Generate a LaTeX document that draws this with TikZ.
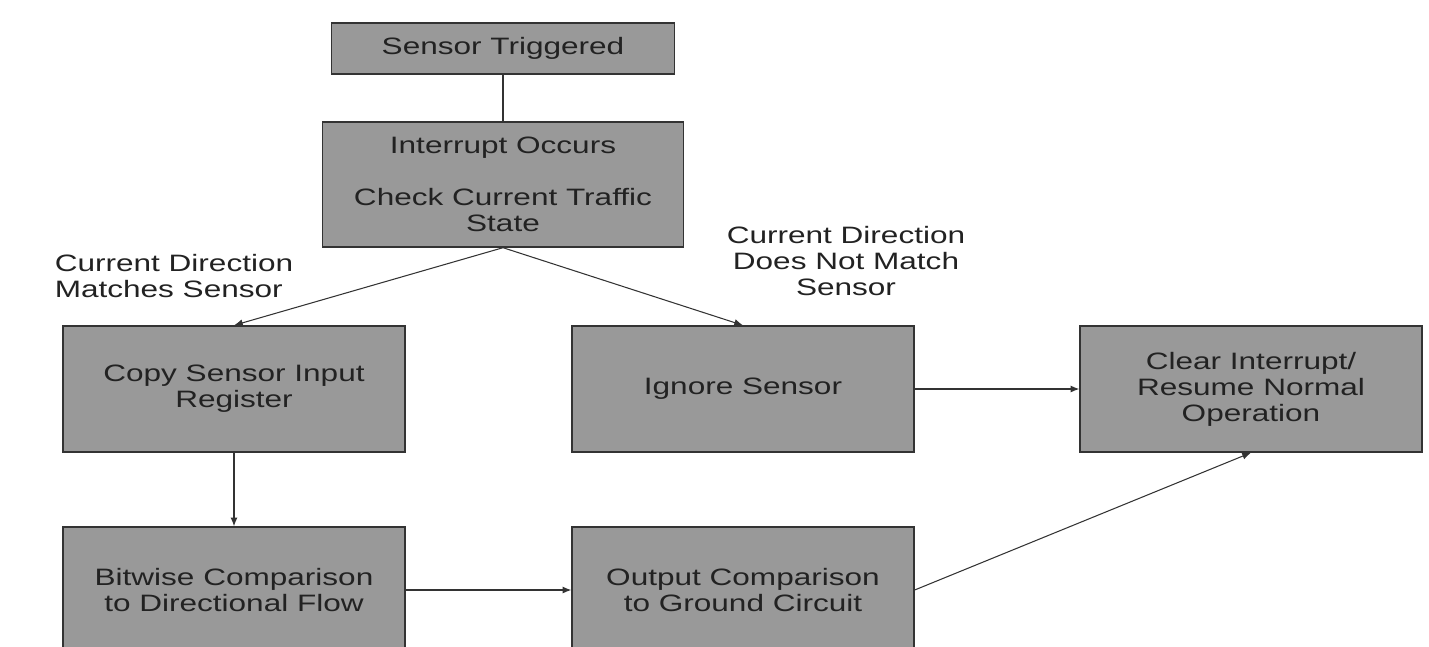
\documentclass[tikz,border=0pt]{standalone}
\usepackage{fontspec}
\setmainfont{Liberation Sans}[FakeStretch=1.33]
\usetikzlibrary{arrows.meta}

\definecolor{boxgray}{HTML}{999999}
\definecolor{edgegray}{HTML}{333333}
\definecolor{textgray}{HTML}{222222}

\begin{document}
\begin{tikzpicture}[
    x=0.02cm, y=-0.02cm,
    font=\fontsize{13.5}{14.8}\selectfont,
    text=textgray,
    % Stile
    stepbox/.style={draw=edgegray, line width=0.8pt, fill=boxgray, align=center, inner sep=2pt},
    rowbox/.style={stepbox, minimum width=6.84cm, minimum height=2.52cm},
    lbl/.style={align=center},
    arr/.style={draw=edgegray, line width=0.6pt, -{Latex[length=5pt, width=4pt]}}
]
    \clip (0,0) rectangle (1429,646);

    % ==========================================
    % START
    % ==========================================
    \node[stepbox, minimum width=6.86cm, minimum height=1.02cm] (trig) at (503,48.5) {Sensor Triggered};
    \node[stepbox, minimum width=7.22cm, minimum height=2.5cm] (intr) at (503,184.5)
        {Interrupt Occurs\\[14.8pt]Check Current Traffic\\State};

    % ==========================================
    % ZWEIGE
    % ==========================================
    \node[rowbox] (copy)   at (234,389) {Copy Sensor Input\\Register};
    \node[rowbox] (ignore) at (743,389) {Ignore Sensor};
    \node[rowbox] (clear)  at (1251,389) {Clear Interrupt/\\Resume Normal\\Operation};

    \node[rowbox] (bitwise) at (234,590) {Bitwise Comparison\\to Directional Flow};
    \node[rowbox] (output)  at (743,590) {Output Comparison\\to Ground Circuit};

    % Beschriftungen
    \node[lbl, align=left] (lblMatch) at (174,276) {Current Direction\\Matches Sensor};
    \node[lbl] (lblNoMatch) at (846,261) {Current Direction\\Does Not Match\\Sensor};

    % ==========================================
    % VERBINDUNGEN
    % ==========================================
    \draw[draw=edgegray, line width=0.6pt] (trig) -- (intr);
    \draw[arr] (intr.south) -- (copy.north);
    \draw[arr] (intr.south) -- (ignore.north);
    \draw[arr] (copy) -- (bitwise);
    \draw[arr] (bitwise) -- (output);
    \draw[arr] (ignore) -- (clear);
    \draw[arr] (output.east) -- (clear.south);

\end{tikzpicture}
\end{document}
